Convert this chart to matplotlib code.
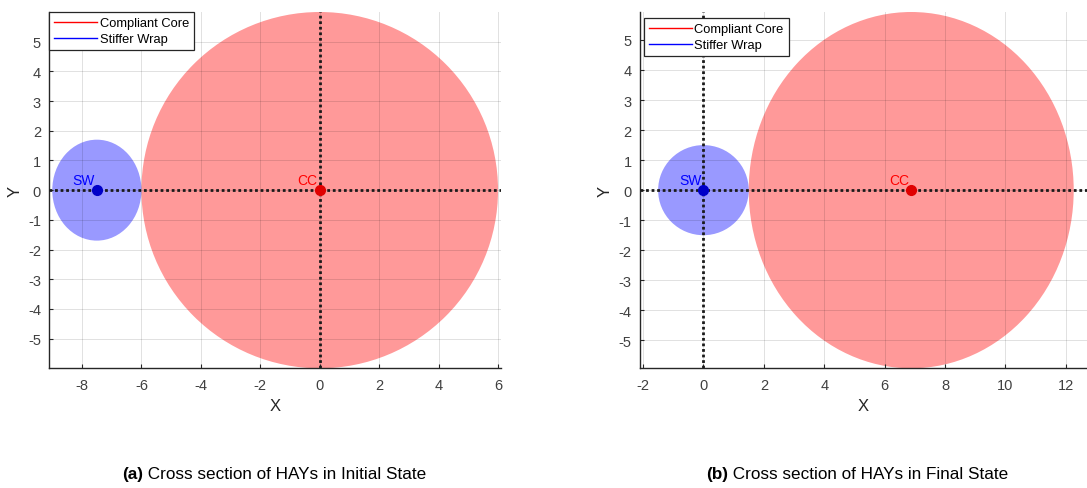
import matplotlib
matplotlib.use("Agg")
import matplotlib.pyplot as plt
from matplotlib.patches import Ellipse
from matplotlib.lines import Line2D

plt.rcParams['font.family'] = ['Liberation Sans', 'DejaVu Sans']
plt.rcParams['axes.unicode_minus'] = False

# geometry of the two states: initial (a) and final (b)
core_x = [0.0, 6.88]
core_rx = [6.0, 5.38]
core_ry = [6.0, 5.93]
wrap_x = [-7.5, 0.0]
wrap_rx = [1.5, 1.5]
wrap_ry = [1.7, 1.5]

xlims = [(-9.1, 6.1), (-2.1, 12.7)]
ylims = [(-6.0, 6.0), (-5.93, 5.93)]
xticks = [[-8, -6, -4, -2, 0, 2, 4, 6], [-2, 0, 2, 4, 6, 8, 10, 12]]
yticks = [-5, -4, -3, -2, -1, 0, 1, 2, 3, 4, 5]
tags = ['(a)', '(b)']
captions = [' Cross section of HAYs in Initial State',
            ' Cross section of HAYs in Final State']

W, H = 1087, 489
fig = plt.figure(figsize=(W / 100, H / 100), dpi=100)

ax_a = fig.add_axes([49.3 / W, 1 - 369.3 / H, 451.7 / W, 356.3 / H])
ax_b = fig.add_axes([640 / W, 1 - 369.3 / H, 447 / W, 356.3 / H])
axes = [ax_a, ax_b]

# legend placement in axes fractions
leg_anchor = [(0, 1), (4 / 447, 1 - 6 / 356.3)]
# vertical dotted line goes through whichever body sits at the origin
vline_x = [core_x[0], wrap_x[1]]

for i, ax in enumerate(axes):
    ax.add_patch(Ellipse((core_x[i], 0), 2 * core_rx[i], 2 * core_ry[i],
                         facecolor='red', alpha=0.4, edgecolor='none', zorder=1))
    ax.add_patch(Ellipse((wrap_x[i], 0), 2 * wrap_rx[i], 2 * wrap_ry[i],
                         facecolor='blue', alpha=0.4, edgecolor='none', zorder=1))

    ax.axhline(0, color='#1a1a1a', lw=2, ls=(0, (1, 1)), zorder=3)
    ax.axvline(vline_x[i], color='#1a1a1a', lw=2, ls=(0, (1, 1)), zorder=3)

    ax.plot(core_x[i], 0, 'o', color='#e00000', ms=7, zorder=4)
    ax.plot(wrap_x[i], 0, 'o', color='#0000c8', ms=7, zorder=4)
    ax.annotate('CC', (core_x[i], 0), xytext=(-1.5, 2.5), textcoords='offset points',
                ha='right', va='bottom', color='red', fontsize=10, zorder=5)
    ax.annotate('SW', (wrap_x[i], 0), xytext=(-1.5, 2.5), textcoords='offset points',
                ha='right', va='bottom', color='blue', fontsize=10, zorder=5)

    ax.set_xlim(*xlims[i])
    ax.set_ylim(*ylims[i])
    ax.set_xticks(xticks[i])
    ax.set_yticks(yticks)
    ax.grid(True, color='black', alpha=0.12, lw=0.7)
    ax.set_axisbelow(False)
    for s in ['top', 'right']:
        ax.spines[s].set_visible(False)
    for s in ['left', 'bottom']:
        ax.spines[s].set_color('#262626')
        ax.spines[s].set_linewidth(1.0)
    ax.tick_params(direction='in', length=3, color='#262626', labelcolor='#404040',
                   labelsize=10.5)
    ax.tick_params(axis='x', pad=7)
    ax.tick_params(axis='y', pad=6)
    ax.set_xlabel('X', fontsize=12, color='#262626', labelpad=4)
    ax.set_ylabel('Y', fontsize=12, color='#262626', labelpad=4)

    handles = [Line2D([], [], color='red', lw=1), Line2D([], [], color='blue', lw=1)]
    leg = ax.legend(handles, ['Compliant Core', 'Stiffer Wrap'], loc='upper left',
                    bbox_to_anchor=leg_anchor[i], borderaxespad=0, fontsize=9.3,
                    handlelength=3.3, handletextpad=0.2, borderpad=0.4,
                    labelspacing=0.3, fancybox=False, framealpha=1)
    leg.get_frame().set_edgecolor('#262626')
    leg.get_frame().set_linewidth(0.9)
    leg.set_zorder(6)

# sub-figure captions, bold tag followed by plain text, centred under each panel
renderer = fig.canvas.get_renderer()
cap_cx = [274 / W, 857 / W]
cap_y = 1 - 479 / H
for i in range(2):
    t1 = fig.text(0, cap_y, tags[i], fontsize=12.3, fontweight='bold', va='baseline')
    t2 = fig.text(0, cap_y, captions[i], fontsize=12.3, va='baseline')
    w1 = t1.get_window_extent(renderer).width / W
    w2 = t2.get_window_extent(renderer).width / W
    x0 = cap_cx[i] - (w1 + w2) / 2
    t1.set_x(x0)
    t2.set_x(x0 + w1)

fig.savefig('out.png', dpi=100)
